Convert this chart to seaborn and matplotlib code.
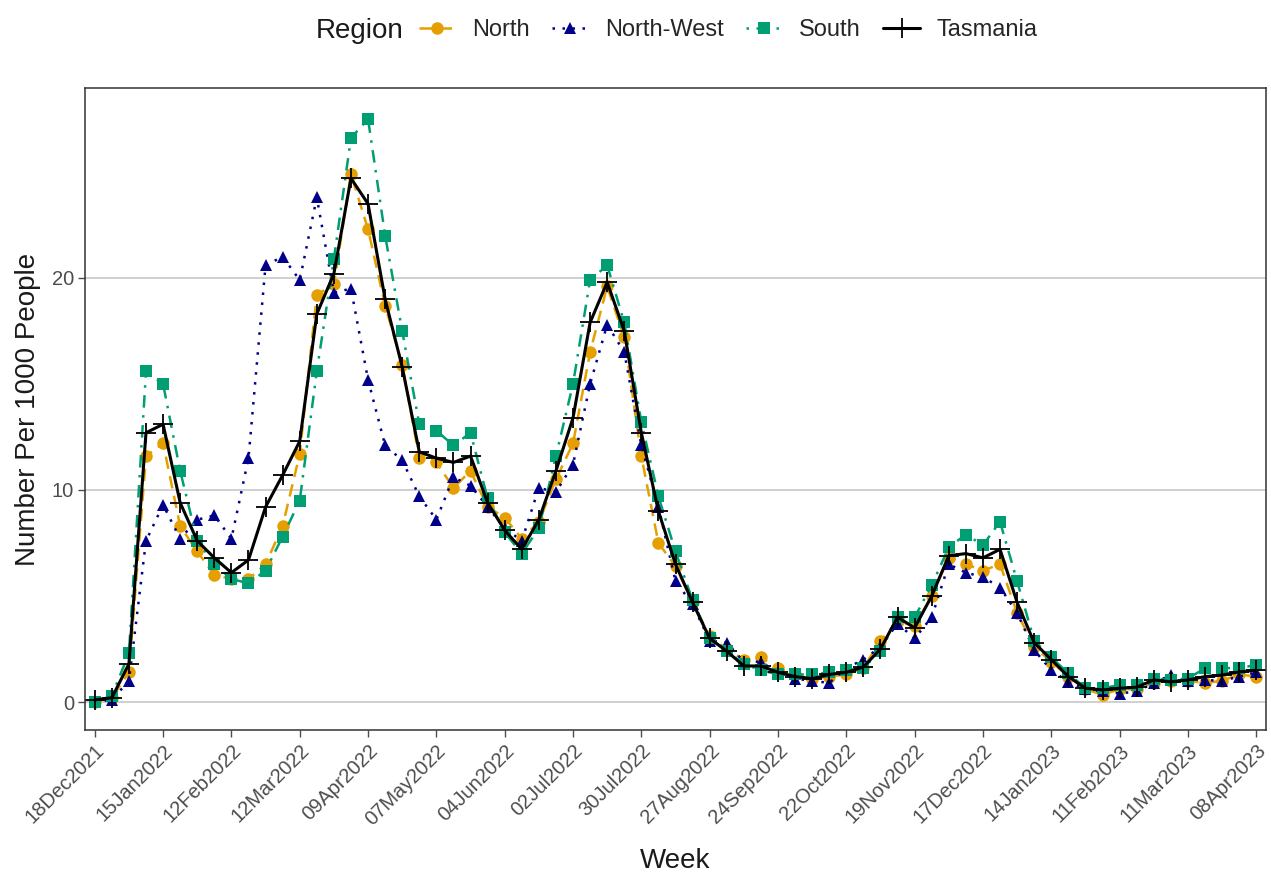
import numpy as np
import pandas as pd
import matplotlib.pyplot as plt
import seaborn as sns

# weekly rates per 1000 people, 18 Dec 2021 - 08 Apr 2023
weeks = pd.date_range('2021-12-18', '2023-04-08', freq='7D')

north = [0.0, 0.2, 1.4, 11.6, 12.2, 8.3, 7.1, 6.0, 5.8, 5.8,
         6.5, 8.3, 11.7, 19.2, 19.7, 24.9, 22.3, 18.7, 15.9, 11.5,
         11.3, 10.1, 10.9, 9.2, 8.7, 7.7, 8.5, 10.5, 12.2, 16.5,
         19.6, 17.2, 11.6, 7.5, 6.4, 4.7, 3.1, 2.5, 2.0, 2.1,
         1.6, 1.3, 1.1, 1.2, 1.3, 1.6, 2.9, 3.8, 3.6, 5.0,
         6.8, 6.5, 6.2, 6.5, 4.2, 2.6, 1.9, 1.2, 0.6, 0.35,
         0.6, 0.6, 0.9, 1.0, 1.0, 0.9, 1.0, 1.3, 1.2]
north_west = [0.0, 0.1, 1.0, 7.6, 9.3, 7.7, 8.6, 8.8, 7.7, 11.5,
              20.6, 21.0, 19.9, 23.8, 19.3, 19.5, 15.2, 12.1, 11.4, 9.7,
              8.6, 10.6, 10.2, 9.2, 8.2, 7.6, 10.1, 9.9, 11.2, 15.0,
              17.8, 16.5, 12.1, 9.2, 5.7, 4.6, 2.9, 2.8, 1.9, 1.9,
              1.4, 1.1, 1.0, 0.9, 1.6, 2.0, 2.6, 3.7, 3.0, 4.0,
              6.5, 6.1, 5.9, 5.4, 4.2, 2.45, 1.5, 0.95, 0.6, 0.5,
              0.4, 0.5, 0.9, 1.27, 1.0, 1.04, 1.0, 1.2, 1.4]
south = [0.0, 0.3, 2.3, 15.6, 15.0, 10.9, 7.6, 6.5, 5.8, 5.6,
         6.2, 7.8, 9.5, 15.6, 20.9, 26.6, 27.5, 22.0, 17.5, 13.1,
         12.8, 12.1, 12.7, 9.6, 8.0, 7.0, 8.2, 11.6, 15.0, 19.9,
         20.6, 17.9, 13.2, 9.7, 7.1, 4.8, 3.0, 2.4, 1.8, 1.5,
         1.3, 1.3, 1.3, 1.4, 1.5, 1.6, 2.4, 4.0, 4.0, 5.5,
         7.3, 7.9, 7.4, 8.5, 5.7, 2.9, 2.1, 1.35, 0.65, 0.65,
         0.8, 0.8, 1.1, 1.05, 1.1, 1.6, 1.6, 1.6, 1.75]
tasmania = [0.1, 0.2, 1.8, 12.7, 13.1, 9.4, 7.6, 6.8, 6.1, 6.7,
            9.2, 10.7, 12.3, 18.3, 20.2, 24.7, 23.5, 19.0, 15.8, 11.8,
            11.5, 11.3, 11.6, 9.4, 8.1, 7.2, 8.6, 10.9, 13.4, 17.9,
            19.8, 17.5, 12.7, 9.0, 6.5, 4.7, 3.0, 2.4, 1.7, 1.7,
            1.4, 1.2, 1.1, 1.3, 1.4, 1.65, 2.5, 4.0, 3.5, 5.0,
            6.9, 7.0, 6.8, 7.2, 4.7, 2.8, 2.0, 1.2, 0.65, 0.57,
            0.65, 0.7, 1.04, 0.95, 1.04, 1.2, 1.27, 1.42, 1.5]

regions = ['North', 'North-West', 'South', 'Tasmania']
colours = ['#E69F00', '#00008B', '#009E73', '#000000']
markers = ['o', '^', 's', '+']
dashes = [(5, 3), (1, 3), (1, 3, 5, 3), None]

df = pd.DataFrame({'Week': np.tile(weeks, 4),
                   'Rate': north + north_west + south + tasmania,
                   'Region': np.repeat(regions, len(weeks))})

sns.set_theme(style='white')
plt.rcParams['font.family'] = ['Liberation Sans', 'DejaVu Sans']

fig, ax = plt.subplots(figsize=(12.71, 8.80), dpi=100)
fig.subplots_adjust(left=85/1271, right=1266/1271, top=1-88/880, bottom=1-730/880)

for reg, col, mk, ds in zip(regions, colours, markers, dashes):
    sub = df[df['Region'] == reg]
    kw = dict(marker=mk, color=col, lw=1.8, label=reg, markeredgecolor=col)
    if mk == '+':
        kw.update(markersize=14, markeredgewidth=1.3, lw=2.2)
    else:
        kw.update(markersize=9, markeredgewidth=0)
    line = sns.lineplot(data=sub, x='Week', y='Rate', ax=ax, **kw).lines[-1]
    if ds is not None:
        line.set_dashes(ds)

ax.set_ylim(-1.32, 28.96)
ax.set_xlim(weeks[0] - pd.Timedelta(days=4), weeks[-1] + pd.Timedelta(days=4))
ax.set_yticks([0, 10, 20])
ax.set_xticks(weeks[::4])
ax.set_xticklabels([d.strftime('%d%b%Y') for d in weeks[::4]], rotation=45,
                   ha='right', rotation_mode='anchor')
ax.yaxis.grid(True, color='#C4C4C4', lw=1.1)
ax.xaxis.grid(False)
ax.tick_params(axis='both', colors='#4D4D4D', labelsize=14.5, length=5, width=1,
               direction='out', bottom=True, left=True, pad=3)
for s in ax.spines.values():
    s.set_color('#333333')
    s.set_linewidth(1.1)
ax.set_xlabel('Week', fontsize=20, color='#1A1A1A', labelpad=14)
ax.set_ylabel('Number Per 1000 People', fontsize=20, color='#1A1A1A', labelpad=8)

handles, labels = ax.get_legend_handles_labels()
if ax.get_legend():
    ax.get_legend().remove()
fig.text(316/1271, 1-31/880, 'Region', fontsize=20, va='center', ha='left', color='#1A1A1A')
fig.legend(handles, labels, loc='center', bbox_to_anchor=(728/1271, 1-30/880), ncol=4,
           frameon=False, fontsize=17, handlelength=1.55, columnspacing=0.95, handletextpad=0.7)

plt.savefig('out.png', dpi=100)
